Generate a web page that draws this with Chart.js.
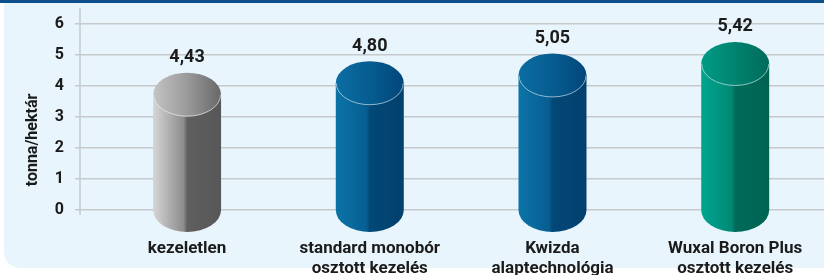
<!DOCTYPE html>
<html>
<head>
<meta charset="utf-8">
<script src="https://cdn.jsdelivr.net/npm/chart.js@4/dist/chart.umd.min.js"></script>
<style>
  html, body { margin: 0; padding: 0; background: #fff; }
  #wrap { width: 824px; height: 275px; }
</style>
</head>
<body>
<div id="wrap"><canvas id="chart" width="824" height="275"></canvas></div>
<script>
// data
const categories = [
  ['kezeletlen'],
  ['standard monobór', 'osztott kezelés'],
  ['Kwizda', 'alaptechnológia'],
  ['Wuxal Boron Plus', 'osztott kezelés']
];
const yields = [4.43, 4.80, 5.05, 5.42];
const yTicks = [0, 1, 2, 3, 4, 5, 6];
const yTitle = 'tonna/hektár';

const FONT = "Roboto, 'Liberation Sans', sans-serif";
const TEXT = '#1b1b1b';
const GRID = '#c6cacd';

// body / top gradients for each cylinder
const palette = [
  { body: [[0, '#d6d6d6'], [0.45, '#8c8c8c'], [0.5, '#5f5f5f'], [1, '#575757']],
    top:  [[0, '#c4c4c4'], [0.5, '#9a9a9a'], [1, '#686868']] },
  { body: [[0, '#0c74a8'], [0.45, '#075e92'], [0.5, '#034878'], [1, '#02406d']],
    top:  [[0, '#0b6ea3'], [0.5, '#065c90'], [1, '#02467a']] },
  { body: [[0, '#0c74a8'], [0.45, '#075e92'], [0.5, '#034878'], [1, '#02406d']],
    top:  [[0, '#0b6ea3'], [0.5, '#065c90'], [1, '#02467a']] },
  { body: [[0, '#00a690'], [0.45, '#008874'], [0.5, '#006b5a'], [1, '#006352']],
    top:  [[0, '#009c85'], [0.5, '#00836f'], [1, '#006a5b']] }
];

const panel = {
  id: 'panel',
  beforeDraw(chart) {
    const ctx = chart.ctx;
    const w = chart.width, h = chart.height;
    ctx.save();
    ctx.fillStyle = '#ffffff';
    ctx.fillRect(0, 0, w, h);
    ctx.fillStyle = '#e8f5fc';
    ctx.beginPath();
    ctx.roundRect(4, 0, w + 20, 268, [0, 0, 0, 16]);
    ctx.fill();
    ctx.fillStyle = '#0d4f8c';
    ctx.fillRect(0, 0, w, 3);
    ctx.restore();
  },
  afterDraw(chart) {
    const ctx = chart.ctx;
    const { left } = chart.chartArea;
    ctx.save();
    // y axis line, a bit longer than the plot
    ctx.strokeStyle = GRID;
    ctx.lineWidth = 1.5;
    ctx.beginPath();
    ctx.moveTo(left, 8);
    ctx.lineTo(left, 215);
    ctx.stroke();
    // axis title
    ctx.fillStyle = TEXT;
    ctx.font = 'bold 16px ' + FONT;
    ctx.textAlign = 'center';
    ctx.textBaseline = 'middle';
    ctx.translate(33, 140);
    ctx.rotate(-Math.PI / 2);
    ctx.fillText(yTitle, 0, 0);
    ctx.restore();
  }
};

const cylinders = {
  id: 'cylinders',
  afterDatasetsDraw(chart) {
    const ctx = chart.ctx;
    const meta = chart.getDatasetMeta(0);
    const base = chart.scales.y.getPixelForValue(0);
    meta.data.forEach((bar, i) => {
      const cx = bar.x, rx = bar.width / 2, ry = 22;
      const cy = bar.y + ry;
      const c = palette[i];
      ctx.save();

      const g = ctx.createLinearGradient(cx - rx, 0, cx + rx, 0);
      c.body.forEach(([s, col]) => g.addColorStop(s, col));
      ctx.fillStyle = g;
      ctx.beginPath();
      ctx.moveTo(cx - rx, cy);
      ctx.lineTo(cx - rx, base);
      ctx.ellipse(cx, base, rx, ry, 0, Math.PI, 0, true);
      ctx.lineTo(cx + rx, cy);
      ctx.closePath();
      ctx.fill();

      const t = ctx.createLinearGradient(cx - rx, 0, cx + rx, 0);
      c.top.forEach(([s, col]) => t.addColorStop(s, col));
      ctx.fillStyle = t;
      ctx.beginPath();
      ctx.ellipse(cx, cy, rx, ry, 0, 0, Math.PI * 2);
      ctx.fill();

      ctx.strokeStyle = 'rgba(255,255,255,0.55)';
      ctx.lineWidth = 1;
      ctx.beginPath();
      ctx.ellipse(cx, cy, rx - 0.5, ry - 0.5, 0, 0, Math.PI, false);
      ctx.stroke();

      ctx.fillStyle = TEXT;
      ctx.font = 'bold 18px ' + FONT;
      ctx.textAlign = 'center';
      ctx.textBaseline = 'middle';
      ctx.fillText(yields[i].toFixed(2).replace('.', ','), cx, bar.y - 15);
      ctx.restore();
    });
  }
};

new Chart(document.getElementById('chart'), {
  type: 'bar',
  data: {
    datasets: [{
      data: yields.map((v, i) => ({ x: i, y: v })),
      backgroundColor: 'rgba(0,0,0,0)',
      barThickness: 68
    }]
  },
  options: {
    responsive: false,
    animation: false,
    layout: { padding: { top: 24, right: 0, bottom: 0, left: 0 } },
    plugins: { legend: { display: false }, tooltip: { enabled: false } },
    scales: {
      x: {
        type: 'linear',
        offset: false,
        min: -0.586,
        max: 3.486,
        grid: { display: false, drawTicks: false, offset: false },
        border: { display: false },
        afterBuildTicks: s => { s.ticks = categories.map((_, i) => ({ value: i })); },
        afterFit: s => { s.height = 65; s.paddingLeft = 0; s.paddingRight = 0; },
        ticks: {
          autoSkip: false,
          maxRotation: 0,
          padding: 29,
          color: TEXT,
          font: { family: FONT, size: 17, weight: 'bold', lineHeight: 1.15 },
          callback: v => categories[v]
        }
      },
      y: {
        min: 0,
        max: 6,
        afterBuildTicks: s => { s.ticks = yTicks.map(v => ({ value: v })); },
        afterFit: s => { s.width = 80; },
        grid: { color: GRID, lineWidth: 1.5, tickLength: 5 },
        border: { display: false },
        ticks: {
          padding: 11,
          color: TEXT,
          font: { family: FONT, size: 16, weight: 'bold' }
        }
      }
    }
  },
  plugins: [panel, cylinders]
});
</script>
</body>
</html>
